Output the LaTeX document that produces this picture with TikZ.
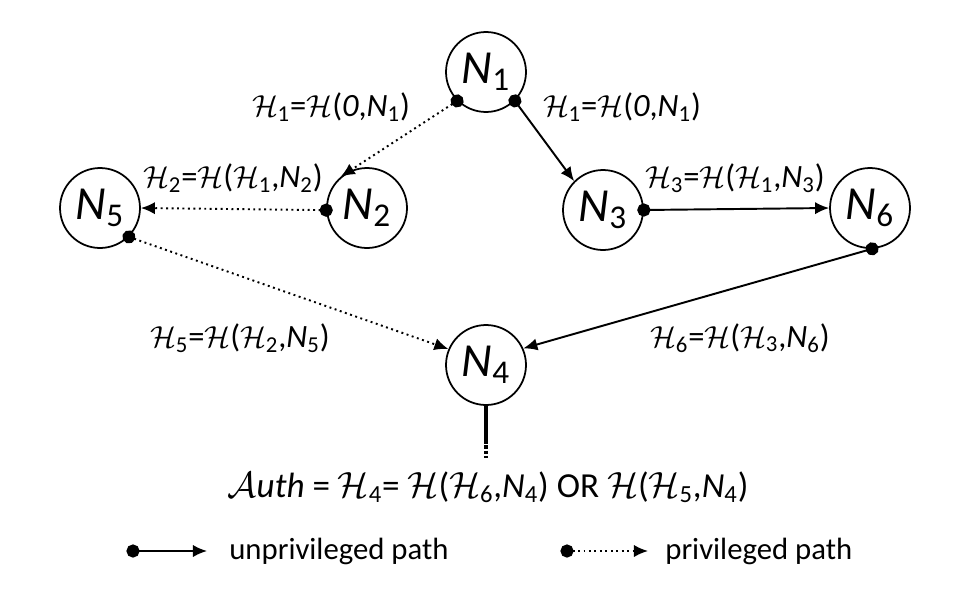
\documentclass[tikz,border=0pt]{standalone}
\usepackage{amsmath}
\usepackage{fontspec}
\setmainfont{Carlito}
\usepackage{tikz}
\usetikzlibrary{arrows.meta, positioning}
\newcommand{\Hc}[1]{\mathcal{H}_{\text{#1}}}
\newcommand{\Nd}[1]{\textit{N}_{\text{#1}}}
\tikzset{
  peer/.style={
    circle, draw, line width=1pt,
    minimum size=1.6cm, inner sep=0pt,
    font=\fontsize{27}{30}\selectfont
  },
  unpriv/.style={{Circle[length=7.5pt]}-{Latex[length=8pt, width=7pt]},
    line width=1.1pt, shorten <=-3.75pt},
  priv/.style={{Circle[length=7.5pt]}-{Latex[length=8pt, width=7pt]},
    line width=1.1pt, shorten <=-3.75pt, dotted},
  hlabel/.style={font=\fontsize{18.5}{22}\selectfont, inner sep=1pt},
  legend/.style={font=\fontsize{17.5}{21}\selectfont, inner sep=0pt}
}
\begin{document}
\begin{tikzpicture}[x=0.02cm, y=-0.02cm]
\useasboundingbox (0,0) rectangle (980,592);

% Peers
\node[peer] (n1) at (486,72) {$\Nd{1}$};
\node[peer] (n2) at (367,208) {$\Nd{2}$};
\node[peer] (n5) at (100,208) {$\Nd{5}$};
\node[peer] (n3) at (603,210) {$\Nd{3}$};
\node[peer] (n6) at (870,208) {$\Nd{6}$};
\node[peer] (n4) at (486,365) {$\Nd{4}$};

% Paths
\draw[priv] (n1.225) -- (n2.130);
\draw[unpriv] (n1.315) -- (n3.135);
\draw[priv] (n2.183) -- (n5.east);
\draw[unpriv] (n3.east) -- (n6.west);
\draw[priv] (n5.-45) -- (n4.157);
\draw[unpriv] (n6.-87) -- (n4.24);

% Hash labels
\node[hlabel] (h1l) at (331,107) {$\Hc{1}$=$\mathcal{H}$(\textit{0},$\Nd{1}$)};
\node[hlabel] (h1r) at (622,107) {$\Hc{1}$=$\mathcal{H}$(\textit{0},$\Nd{1}$)};
\node[hlabel] (h2) at (233,178) {$\Hc{2}$=$\mathcal{H}$($\Hc{1}$,$\Nd{2}$)};
\node[hlabel] (h3) at (735,178) {$\Hc{3}$=$\mathcal{H}$($\Hc{1}$,$\Nd{3}$)};
\node[hlabel] (h5) at (240,338) {$\Hc{5}$=$\mathcal{H}$($\Hc{2}$,$\Nd{5}$)};
\node[hlabel] (h6) at (740,338) {$\Hc{6}$=$\mathcal{H}$($\Hc{3}$,$\Nd{6}$)};

% Authentication
\coordinate (mid) at (486,440);
\coordinate (tail) at (486,458);
\draw[line width=2.5pt] (n4.south) -- (mid);
\draw[line width=2.5pt, dash pattern=on 2pt off 1pt] (mid) -- (tail);
\node[hlabel, font=\fontsize{20}{24}\selectfont] (auth) at (488,487)
  {$\mathcal{A}\mathit{uth}$ = $\Hc{4}$= $\mathcal{H}$($\Hc{6}$,$\Nd{4}$) OR $\mathcal{H}$($\Hc{5}$,$\Nd{4}$)};

% Legend
\coordinate (lg1a) at (133,551);
\coordinate (lg1b) at (207,551);
\draw[unpriv] (lg1a) -- (lg1b);
\node[legend, anchor=west] (lg1t) at (229,551) {unprivileged path};
\coordinate (lg2a) at (567,551);
\coordinate (lg2b) at (648,551);
\draw[priv] (lg2a) -- (lg2b);
\node[legend, anchor=west] (lg2t) at (665,551) {privileged path};

\end{tikzpicture}
\end{document}
